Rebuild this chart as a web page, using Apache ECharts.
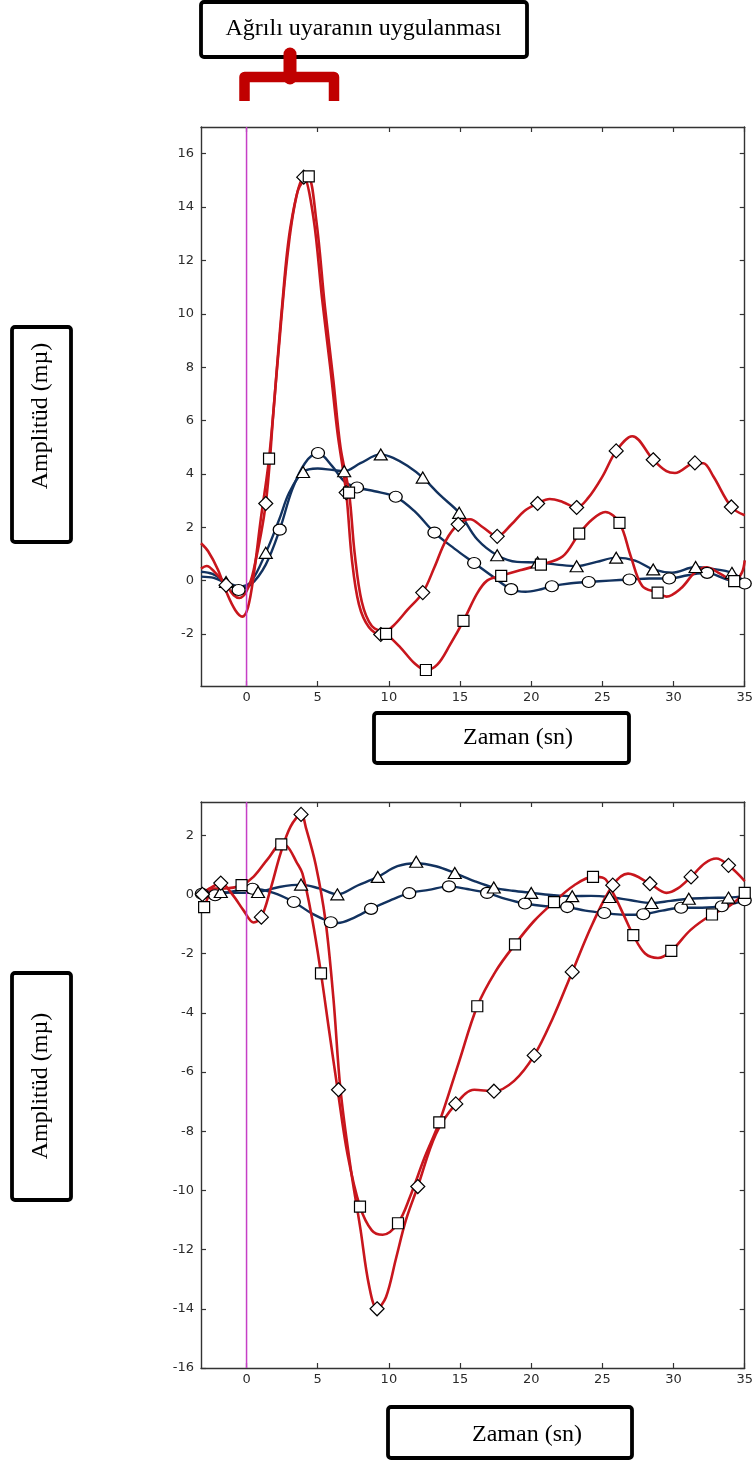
<!DOCTYPE html>
<html>
<head>
<meta charset="utf-8">
<script src="https://cdn.jsdelivr.net/npm/echarts@6/dist/echarts.min.js"></script>
<style>
  html, body { margin: 0; padding: 0; background: #ffffff; }
  #chart { width: 756px; height: 1461px; }
</style>
</head>
<body>
<div id="chart"></div>
<script>
// ---- axis ticks ----
const xTicks = [0, 5, 10, 15, 20, 25, 30, 35];
const yTicksTop = [-2, 0, 2, 4, 6, 8, 10, 12, 14, 16];
const yTicksBottom = [-16, -14, -12, -10, -8, -6, -4, -2, 0, 2];
const stimulusTime = 0;

// ---- upper panel: curves [time, amplitude] ----
const topRedSquare = [[-3.2,1.4],[-2.7,1.1],[-2.0,0.4],[-1.4,-0.45],[-0.8,-1.1],[-0.3,-1.35],[0.1,-1.0],[0.5,0.2],[1.0,2.3],[1.58,4.57],[2.2,8.3],[2.9,12.3],[3.6,14.6],[4.3,15.15],[4.9,13.5],[5.5,10.3],[6.1,7.5],[6.6,5.0],[7.2,3.3],[7.6,1.0],[8.1,-0.8],[8.8,-1.7],[9.8,-2.0],[10.8,-2.5],[11.8,-3.1],[12.6,-3.35],[13.4,-3.15],[14.3,-2.4],[15.24,-1.51],[16.2,-0.48],[16.9,0.0],[17.89,0.18],[19.3,0.4],[20.68,0.6],[22.2,0.9],[23.37,1.76],[24.3,2.3],[25.2,2.57],[26.2,2.16],[27.0,0.9],[27.8,-0.2],[28.88,-0.45],[29.5,-0.6],[30.5,-0.3],[31.5,0.3],[32.3,0.5],[33.3,0.25],[34.26,-0.02],[34.8,0.3],[35.0,0.76]];
const topRedSquareMarks = [[1.58,4.57],[4.37,15.15],[7.2,3.3],[9.8,-2.0],[12.6,-3.35],[15.24,-1.51],[17.89,0.18],[20.68,0.6],[23.37,1.76],[26.2,2.16],[28.88,-0.45],[34.26,-0.02]];

const topRedDiamond = [[-3.2,0.45],[-2.8,0.55],[-2.2,0.3],[-1.44,-0.17],[-0.9,-0.55],[-0.5,-0.65],[0.0,-0.4],[0.5,0.4],[1.35,2.89],[1.9,6.4],[2.5,10.3],[3.1,13.3],[4.02,15.12],[4.7,13.6],[5.3,10.6],[5.9,7.9],[6.4,5.5],[7.0,3.3],[7.4,0.8],[7.9,-0.9],[8.6,-1.75],[9.43,-2.02],[10.3,-1.7],[11.3,-1.1],[12.38,-0.45],[13.2,0.5],[14.0,1.5],[14.87,2.11],[15.7,2.3],[16.6,2.0],[17.61,1.66],[18.6,2.1],[19.5,2.6],[20.45,2.89],[21.3,3.06],[22.2,2.95],[23.19,2.74],[24.0,3.1],[25.0,3.9],[25.97,4.86],[27.1,5.41],[28.57,4.53],[29.5,4.1],[30.1,4.03],[31.5,4.41],[32.1,4.4],[32.8,3.9],[34.06,2.76],[35.0,2.45]];
const topRedDiamondMarks = [[-1.44,-0.17],[1.35,2.89],[4.02,15.12],[7.0,3.3],[9.43,-2.02],[12.38,-0.45],[14.87,2.11],[17.61,1.66],[20.45,2.89],[23.19,2.74],[25.97,4.86],[28.57,4.53],[31.5,4.41],[34.06,2.76]];

const topBlueTriangle = [[-3.2,0.33],[-2.4,0.25],[-1.44,-0.05],[-0.5,-0.22],[0.3,-0.05],[1.35,1.04],[2.3,2.3],[3.0,3.3],[3.97,4.07],[5.0,4.2],[6.0,4.15],[6.86,4.1],[8.0,4.4],[9.43,4.73],[10.3,4.6],[11.3,4.3],[12.38,3.86],[13.6,3.2],[14.94,2.54],[16.2,1.55],[17.61,0.95],[19.0,0.7],[20.45,0.68],[21.8,0.6],[23.19,0.54],[24.6,0.7],[25.97,0.86],[27.3,0.75],[28.57,0.42],[29.9,0.3],[31.55,0.51],[32.6,0.45],[34.1,0.29],[35.0,-0.05]];
const topBlueTriangleMarks = [[-1.44,-0.05],[1.35,1.04],[3.97,4.07],[6.86,4.1],[9.43,4.73],[12.38,3.86],[14.94,2.54],[17.61,0.95],[20.45,0.68],[23.19,0.54],[25.97,0.86],[28.57,0.42],[31.55,0.51],[34.1,0.29]];

const topBlueCircle = [[-3.2,0.15],[-2.3,0.1],[-1.44,-0.1],[-0.56,-0.3],[0.3,-0.15],[1.35,0.6],[2.33,1.91],[3.2,3.4],[4.1,4.4],[5.02,4.78],[6.0,4.3],[6.9,3.7],[7.76,3.49],[9.0,3.35],[10.48,3.14],[11.8,2.6],[13.2,1.8],[14.6,1.2],[15.99,0.66],[17.3,0.15],[18.59,-0.32],[19.6,-0.42],[20.5,-0.35],[21.45,-0.21],[22.8,-0.1],[24.04,-0.05],[25.5,0.0],[26.9,0.04],[28.3,0.08],[29.69,0.08],[31.0,0.2],[32.36,0.29],[33.7,0.05],[35.0,-0.11]];
const topBlueCircleMarks = [[-0.56,-0.35],[2.33,1.91],[5.02,4.78],[7.76,3.49],[10.48,3.14],[13.2,1.8],[15.99,0.66],[18.59,-0.32],[21.45,-0.21],[24.04,-0.05],[26.9,0.04],[29.69,0.08],[32.36,0.29],[35.0,-0.11]];

// ---- lower panel: curves [time, amplitude] ----
const bottomRedSquare = [[-3.2,-0.6],[-2.98,-0.43],[-2.3,0.2],[-1.5,0.2],[-0.35,0.31],[0.5,0.6],[1.5,1.2],[2.44,1.69],[2.9,1.6],[3.5,1.1],[3.93,0.7],[4.63,-0.88],[5.23,-2.67],[5.8,-4.6],[6.4,-6.6],[7.1,-8.8],[7.97,-10.55],[8.8,-11.35],[9.57,-11.5],[10.64,-11.11],[11.5,-10.2],[12.5,-8.9],[13.54,-7.7],[14.9,-5.7],[16.21,-3.78],[17.5,-2.6],[18.86,-1.69],[20.2,-0.9],[21.6,-0.26],[23.0,0.3],[24.34,0.59],[25.1,0.55],[25.8,0.0],[26.5,-0.7],[27.17,-1.38],[28.0,-2.0],[28.9,-2.15],[29.84,-1.91],[31.2,-1.2],[32.7,-0.68],[33.9,-0.4],[35.0,0.05]];
const bottomRedSquareMarks = [[-2.98,-0.43],[-0.35,0.31],[2.44,1.69],[5.23,-2.67],[7.97,-10.55],[10.64,-11.11],[13.54,-7.7],[16.21,-3.78],[18.86,-1.69],[21.6,-0.26],[24.34,0.59],[27.17,-1.38],[29.84,-1.91],[32.7,-0.68],[35.0,0.05]];

const bottomRedDiamond = [[-3.2,0.0],[-2.6,0.2],[-1.81,0.38],[-1.0,0.0],[-0.2,-0.55],[0.5,-0.95],[1.04,-0.77],[1.7,0.2],[2.4,1.4],[3.1,2.3],[3.83,2.7],[4.2,2.2],[4.86,1.0],[5.55,-0.9],[6.1,-3.5],[6.6,-6.6],[7.3,-9.2],[8.0,-11.3],[8.6,-13.2],[9.17,-14.0],[9.8,-13.6],[10.5,-12.3],[11.2,-11.0],[12.03,-9.87],[13.3,-8.1],[14.7,-7.08],[16.0,-6.6],[17.38,-6.65],[18.8,-6.3],[20.21,-5.44],[21.5,-4.2],[22.88,-2.62],[24.3,-1.0],[25.73,0.31],[26.8,0.7],[28.34,0.36],[29.5,0.05],[30.3,0.2],[31.23,0.59],[32.2,1.05],[33.0,1.21],[33.86,0.98],[35.0,0.45]];
const bottomRedDiamondMarks = [[-3.1,0.0],[-1.81,0.38],[1.04,-0.77],[3.83,2.7],[6.46,-6.6],[9.17,-14.0],[12.03,-9.87],[14.7,-7.08],[17.38,-6.65],[20.21,-5.44],[22.88,-2.62],[25.73,0.31],[28.34,0.36],[31.23,0.59],[33.86,0.98]];

const bottomBlueTriangle = [[-3.2,0.1],[-2.5,0.1],[-1.81,0.08],[-0.5,0.05],[0.81,0.08],[2.3,0.25],[3.83,0.33],[5.1,0.2],[6.38,0.0],[7.8,0.3],[9.22,0.59],[10.6,0.95],[11.92,1.05],[13.3,0.95],[14.63,0.72],[16.0,0.45],[17.37,0.23],[18.7,0.12],[20.0,0.05],[21.4,-0.02],[22.88,-0.06],[24.2,-0.05],[25.5,-0.09],[27.0,-0.2],[28.45,-0.29],[29.8,-0.22],[31.07,-0.15],[32.5,-0.12],[33.86,-0.11],[35.0,-0.05]];
const bottomBlueTriangleMarks = [[-1.81,0.08],[0.81,0.08],[3.83,0.33],[6.38,0.0],[9.22,0.59],[11.92,1.1],[14.63,0.72],[17.37,0.23],[20.0,0.05],[22.88,-0.06],[25.5,-0.09],[28.45,-0.29],[31.07,-0.15],[33.86,-0.11]];

const bottomBlueCircle = [[-3.2,0.02],[-2.21,-0.03],[-1.0,0.1],[0.42,0.19],[1.9,0.05],[3.32,-0.26],[4.6,-0.65],[5.92,-0.94],[6.4,-0.97],[7.5,-0.8],[8.75,-0.49],[10.1,-0.2],[11.43,0.04],[12.8,0.15],[14.22,0.27],[15.5,0.18],[16.9,0.05],[18.2,-0.15],[19.56,-0.31],[21.0,-0.4],[22.53,-0.43],[23.8,-0.55],[25.13,-0.63],[26.5,-0.69],[27.87,-0.67],[29.2,-0.55],[30.53,-0.45],[32.0,-0.45],[33.39,-0.4],[35.0,-0.2]];
const bottomBlueCircleMarks = [[-3.14,0.02],[-2.21,-0.03],[0.42,0.19],[3.32,-0.26],[5.92,-0.94],[8.75,-0.49],[11.43,0.04],[14.22,0.27],[16.9,0.05],[19.56,-0.31],[22.53,-0.43],[25.13,-0.63],[27.87,-0.67],[30.53,-0.45],[33.39,-0.4],[35.0,-0.2]];

// ---- styling ----
const RED = '#c8161d';
const BLUE = '#12325f';
const MAGENTA = '#c63fc6';
const AXIS = '#333333';
const ELLIPSE = 'path://M0,50A50,50,0,1,1,100,50A50,50,0,1,1,0,50Z';
const SYMBOLS = {
  square: { symbol: 'rect', size: [11, 11] },
  diamond: { symbol: 'diamond', size: [14, 14] },
  triangle: { symbol: 'triangle', size: [13, 11] },
  circle: { symbol: ELLIPSE, size: [13, 11] }
};

const panels = [
  { xMin: -3.2, xMax: 35, yMin: -3.95, yMax: 17, yTicks: yTicksTop,
    grid: { left: 201, top: 127, width: 548, height: 559 },
    curves: [
      [topBlueCircle, topBlueCircleMarks, BLUE, 'circle'],
      [topBlueTriangle, topBlueTriangleMarks, BLUE, 'triangle'],
      [topRedDiamond, topRedDiamondMarks, RED, 'diamond'],
      [topRedSquare, topRedSquareMarks, RED, 'square']
    ] },
  { xMin: -3.2, xMax: 35, yMin: -16, yMax: 3.12, yTicks: yTicksBottom,
    grid: { left: 201, top: 802, width: 548, height: 566 },
    curves: [
      [bottomBlueCircle, bottomBlueCircleMarks, BLUE, 'circle'],
      [bottomBlueTriangle, bottomBlueTriangleMarks, BLUE, 'triangle'],
      [bottomRedDiamond, bottomRedDiamondMarks, RED, 'diamond'],
      [bottomRedSquare, bottomRedSquareMarks, RED, 'square']
    ] }
];

const labelFont = { color: '#2b2b2b', fontFamily: 'DejaVu Sans', fontSize: 13 };

function makeAxis(kind, gi, p, position, showLabels) {
  const isX = kind === 'x';
  const ticks = isX ? xTicks : p.yTicks;
  return {
    type: 'value',
    gridIndex: gi,
    position: position,
    min: isX ? p.xMin : p.yMin,
    max: isX ? p.xMax : p.yMax,
    axisLine: { show: true, onZero: false, lineStyle: { color: AXIS, width: 1.4 } },
    axisTick: { show: true, inside: true, length: 5, customValues: ticks, lineStyle: { color: AXIS, width: 1.2 } },
    axisLabel: Object.assign({ show: showLabels, customValues: ticks, margin: isX ? 5 : 7 }, labelFont),
    splitLine: { show: false }
  };
}

const grids = [], xAxes = [], yAxes = [], series = [];
panels.forEach((p, gi) => {
  grids.push(Object.assign({ containLabel: false }, p.grid));
  xAxes.push(makeAxis('x', gi, p, 'bottom', true));
  xAxes.push(makeAxis('x', gi, p, 'top', false));
  yAxes.push(makeAxis('y', gi, p, 'left', true));
  yAxes.push(makeAxis('y', gi, p, 'right', false));
  const xi = gi * 2, yi = gi * 2;
  p.curves.forEach(([line, marks, color, shape]) => {
    series.push({
      type: 'line', xAxisIndex: xi, yAxisIndex: yi, data: line,
      smooth: 0.35, showSymbol: false, silent: true,
      lineStyle: { color: color, width: color === RED ? 2.6 : 2.4 }, z: 2
    });
  });
  // stimulus onset
  series.push({
    type: 'line', xAxisIndex: xi, yAxisIndex: yi,
    data: [[stimulusTime, p.yMin], [stimulusTime, p.yMax]],
    showSymbol: false, silent: true,
    lineStyle: { color: MAGENTA, width: 1.5 }, z: 3
  });
  p.curves.forEach(([line, marks, color, shape]) => {
    series.push({
      type: 'scatter', xAxisIndex: xi, yAxisIndex: yi, data: marks,
      symbol: SYMBOLS[shape].symbol, symbolSize: SYMBOLS[shape].size,
      clip: false, silent: true,
      itemStyle: { color: '#ffffff', borderColor: '#000000', borderWidth: 1.2, opacity: 1 }, z: 4
    });
  });
});

const serif = '"Liberation Serif", "Times New Roman", serif';
function box(x, y, w, h) {
  return { type: 'rect', shape: { x: x, y: y, width: w, height: h, r: 3 },
    style: { fill: '#ffffff', stroke: '#000000', lineWidth: 3.8 }, z: 10 };
}
function label(text, x, y, rot) {
  return { type: 'text', x: x, y: y, rotation: rot || 0, z: 11,
    style: { text: text, font: '24px ' + serif, fill: '#000000', align: 'center', verticalAlign: 'middle' } };
}

const graphics = [
  box(201, 2, 326, 55),
  label('Ağrılı uyaranın uygulanması', 363.5, 29),
  { type: 'polyline', z: 12,
    shape: { points: [[244.5, 101], [244.5, 77], [334, 77], [334, 101]] },
    style: { fill: null, stroke: '#c00000', lineWidth: 10.5, lineJoin: 'round' } },
  { type: 'polyline', z: 12,
    shape: { points: [[290, 78], [290, 54]] },
    style: { fill: null, stroke: '#c00000', lineWidth: 13, lineCap: 'round' } },
  box(12, 327, 59, 215),
  label('Amplitüd (mµ)', 41, 416, Math.PI / 2),
  box(374, 713, 255, 50),
  label('Zaman (sn)', 518, 738),
  box(12, 973, 59, 227),
  label('Amplitüd (mµ)', 41, 1086, Math.PI / 2),
  box(388, 1407, 244, 51),
  label('Zaman (sn)', 527, 1435)
];

const chart = echarts.init(document.getElementById('chart'), null, { renderer: 'canvas' });
chart.setOption({
  animation: false,
  backgroundColor: '#ffffff',
  grid: grids,
  xAxis: xAxes,
  yAxis: yAxes,
  series: series,
  graphic: graphics
});
</script>
</body>
</html>
